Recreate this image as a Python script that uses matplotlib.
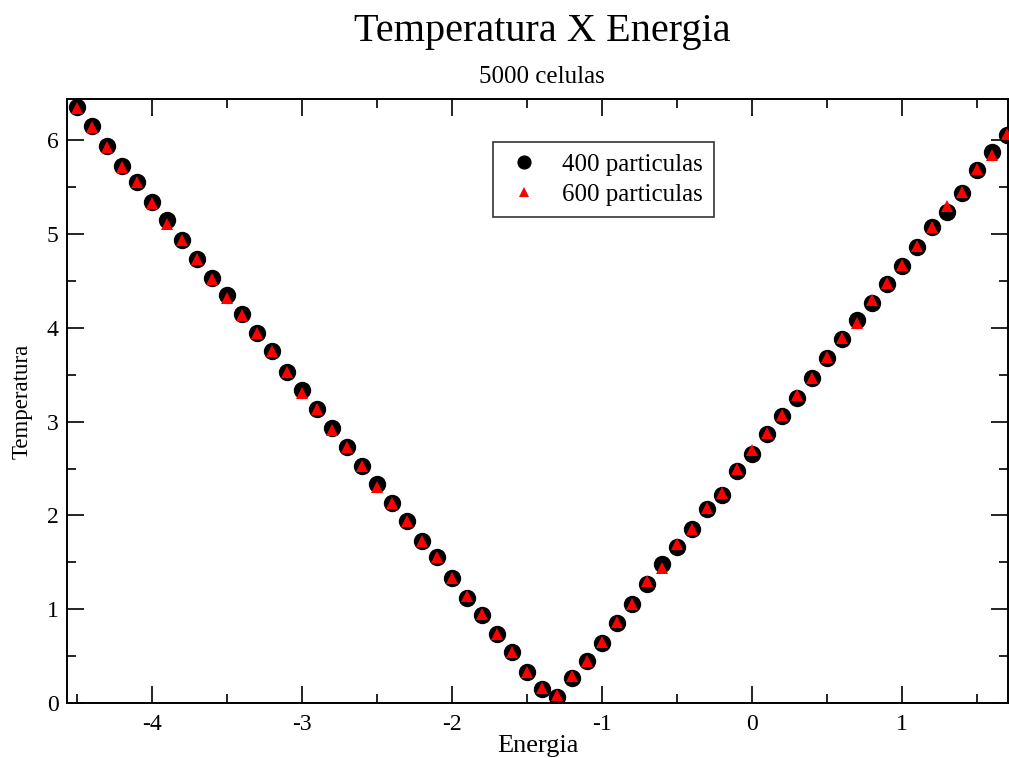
import numpy as np
import matplotlib
matplotlib.use("Agg")
import matplotlib.pyplot as plt
from matplotlib.ticker import MultipleLocator

# Energia values (shared by both series)
energia = [-4.5, -4.4, -4.3, -4.2, -4.1, -4.0, -3.9, -3.8, -3.7, -3.6,
           -3.5, -3.4, -3.3, -3.2, -3.1, -3.0, -2.9, -2.8, -2.7, -2.6,
           -2.5, -2.4, -2.3, -2.2, -2.1, -2.0, -1.9, -1.8, -1.7, -1.6,
           -1.5, -1.4, -1.3, -1.2, -1.1, -1.0, -0.9, -0.8, -0.7, -0.6,
           -0.5, -0.4, -0.3, -0.2, -0.1, 0.0, 0.1, 0.2, 0.3, 0.4,
           0.5, 0.6, 0.7, 0.8, 0.9, 1.0, 1.1, 1.2, 1.3, 1.4,
           1.5, 1.6, 1.7]

temp_400 = [6.35, 6.15, 5.94, 5.73, 5.56, 5.34, 5.15, 4.94, 4.73, 4.53,
            4.35, 4.15, 3.95, 3.75, 3.53, 3.34, 3.13, 2.93, 2.73, 2.53,
            2.33, 2.13, 1.94, 1.73, 1.56, 1.33, 1.12, 0.94, 0.74, 0.54,
            0.33, 0.15, 0.06, 0.27, 0.45, 0.64, 0.85, 1.06, 1.27, 1.48,
            1.66, 1.86, 2.07, 2.22, 2.47, 2.65, 2.87, 3.06, 3.25, 3.46,
            3.68, 3.88, 4.08, 4.27, 4.47, 4.66, 4.86, 5.07, 5.24, 5.44,
            5.68, 5.88, 6.06]

temp_600 = [6.34, 6.14, 5.93, 5.72, 5.55, 5.33, 5.11, 4.94, 4.73, 4.52,
            4.32, 4.14, 3.95, 3.75, 3.53, 3.31, 3.13, 2.91, 2.73, 2.53,
            2.30, 2.13, 1.94, 1.73, 1.56, 1.33, 1.14, 0.95, 0.74, 0.54,
            0.33, 0.16, 0.08, 0.29, 0.45, 0.65, 0.86, 1.06, 1.30, 1.44,
            1.70, 1.86, 2.08, 2.24, 2.49, 2.70, 2.88, 3.07, 3.28, 3.47,
            3.69, 3.89, 4.05, 4.30, 4.48, 4.67, 4.87, 5.07, 5.30, 5.45,
            5.69, 5.84, 6.07]

plt.rcParams["font.family"] = ["Liberation Serif", "DejaVu Serif"]
plt.rcParams["axes.unicode_minus"] = False

fig = plt.figure(figsize=(10.09, 7.58), dpi=100)
ax = fig.add_axes([67 / 1009, 55 / 758, 941 / 1009, 604 / 758])

ax.plot(energia, temp_400, linestyle="none", marker="o", markersize=11.5,
        color="black", label="400 particulas", zorder=3)
ax.plot(energia, temp_600, linestyle="none", marker="^", markersize=9,
        color="red", markeredgewidth=0, label="600 particulas", zorder=4)

ax.set_xlim(-4.565, 1.707)
ax.set_ylim(0, 6.44)
ax.xaxis.set_major_locator(MultipleLocator(1))
ax.xaxis.set_minor_locator(MultipleLocator(0.5))
ax.yaxis.set_major_locator(MultipleLocator(1))
ax.yaxis.set_minor_locator(MultipleLocator(0.5))
ax.tick_params(which="both", direction="in", top=True, right=True, width=1.2)
ax.tick_params(which="major", length=12, labelsize=17, pad=6)
ax.tick_params(axis="x", which="major", pad=8)
ax.tick_params(which="minor", length=6.5)
for spine in ax.spines.values():
    spine.set_linewidth(1.4)

ax.set_xlabel("Energia", fontsize=19, labelpad=0)
ax.set_ylabel("Temperatura", fontsize=16.5, labelpad=10)

fig.text(0.537, 0.958, "Temperatura X Energia", ha="center", va="center",
         fontsize=29)
fig.text(0.537, 0.899, "5000 celulas", ha="center", va="center", fontsize=18)

leg = ax.legend(loc="upper left", bbox_to_anchor=(0.4527, 0.929), fontsize=18,
                frameon=True, fancybox=False, edgecolor="black",
                borderpad=0.45, handlelength=1.6, handletextpad=0.7,
                labelspacing=0.3, borderaxespad=0, markerscale=0.8)
leg.get_frame().set_linewidth(1.2)

fig.savefig("out.png", dpi=100)
